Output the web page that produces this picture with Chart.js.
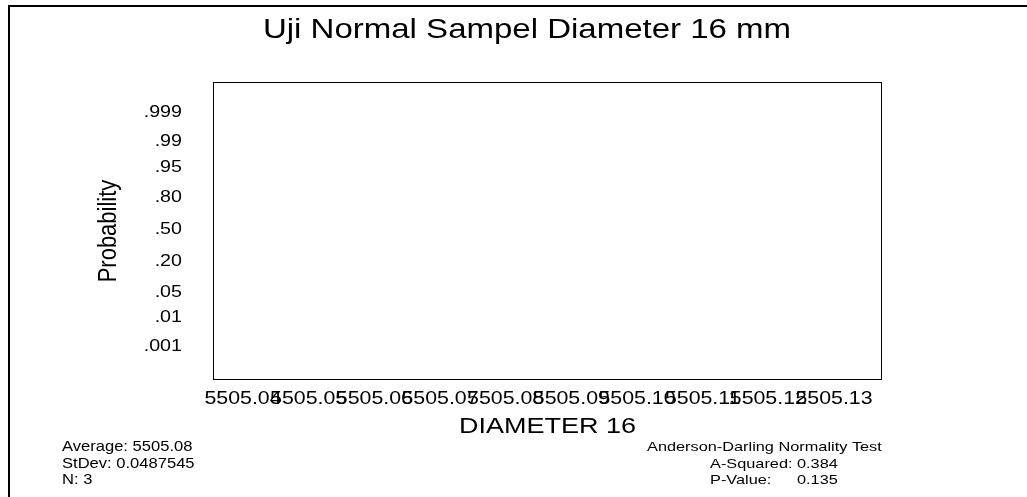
<!DOCTYPE html>
<html>
<head>
<meta charset="utf-8">
<script src="https://cdn.jsdelivr.net/npm/chart.js@4.4.1/dist/chart.umd.min.js"></script>
<style>
  html, body { margin: 0; padding: 0; background: #ffffff; }
  #wrap { width: 1027px; height: 497px; }
</style>
</head>
<body>
<div id="wrap"><canvas id="c" width="1027" height="497"></canvas></div>
<script>
// ---------- data ----------
const chartTitle = 'Uji Normal Sampel Diameter 16 mm';
const xAxisTitle = 'DIAMETER 16';
const yAxisTitle = 'Probability';
const xTickValues = [5505.04, 5505.05, 5505.06, 5505.07, 5505.08, 5505.09, 5505.10, 5505.11, 5505.12, 5505.13];
const xTickLabels = ['5505.04', '5505.05', '5505.06', '5505.07', '5505.08', '5505.09', '5505.10', '5505.11', '5505.12', '5505.13'];
const probTicks = [0.001, 0.01, 0.05, 0.20, 0.50, 0.80, 0.95, 0.99, 0.999];
const probLabels = ['.001', '.01', '.05', '.20', '.50', '.80', '.95', '.99', '.999'];
const diameterPoints = []; // no points are drawn in the reference
const statsLeft = ['Average: 5505.08', 'StDev: 0.0487545', 'N: 3'];
const adTitle = 'Anderson-Darling Normality Test';
const adLabels = ['A-Squared:', 'P-Value:'];
const adValues = ['0.384', '0.135'];

// inverse standard normal (Acklam) — maps probabilities onto the normal-probability axis
function probit(p) {
  const a = [-3.969683028665376e+01, 2.209460984245205e+02, -2.759285104469687e+02, 1.383577518672690e+02, -3.066479806614716e+01, 2.506628277459239e+00];
  const b = [-5.447609879822406e+01, 1.615858368580409e+02, -1.556989798598866e+02, 6.680131188771972e+01, -1.328068155288572e+01];
  const c = [-7.784894002430293e-03, -3.223964580411365e-01, -2.400758277161838e+00, -2.549732539343734e+00, 4.374664141464968e+00, 2.938163982698783e+00];
  const d = [7.784695709041462e-03, 3.224671290700398e-01, 2.445134137142996e+00, 3.754408661907416e+00];
  const pl = 0.02425, ph = 1 - pl;
  let q, r;
  if (p < pl) {
    q = Math.sqrt(-2 * Math.log(p));
    return (((((c[0]*q+c[1])*q+c[2])*q+c[3])*q+c[4])*q+c[5]) / ((((d[0]*q+d[1])*q+d[2])*q+d[3])*q+1);
  } else if (p <= ph) {
    q = p - 0.5; r = q * q;
    return (((((a[0]*r+a[1])*r+a[2])*r+a[3])*r+a[4])*r+a[5])*q / (((((b[0]*r+b[1])*r+b[2])*r+b[3])*r+b[4])*r+1);
  } else {
    q = Math.sqrt(-2 * Math.log(1 - p));
    return -(((((c[0]*q+c[1])*q+c[2])*q+c[3])*q+c[4])*q+c[5]) / ((((d[0]*q+d[1])*q+d[2])*q+d[3])*q+1);
  }
}

const FONT = '"Liberation Sans", Arial, Helvetica, sans-serif';
const HS = 1.2; // horizontal stretch of the reference's text

function drawText(ctx, str, x, y, size, align, hs, rotate) {
  ctx.save();
  ctx.translate(x, y);
  ctx.scale(hs, 1);
  if (rotate) ctx.rotate(-Math.PI / 2);
  ctx.font = size + 'px ' + FONT;
  ctx.textAlign = align;
  ctx.textBaseline = 'middle';
  ctx.fillStyle = '#000000';
  ctx.fillText(str, 0, 0);
  ctx.restore();
}

const decorPlugin = {
  id: 'decor',
  afterDraw(chart) {
    const ctx = chart.ctx;
    const area = chart.chartArea;
    const xs = chart.scales.x, ys = chart.scales.y;

    // page frame (top and left)
    ctx.save();
    ctx.fillStyle = '#000000';
    ctx.fillRect(8, 5, 1027 - 8, 2);
    ctx.fillRect(8, 5, 2, 497 - 5);
    // plot box
    ctx.strokeStyle = '#000000';
    ctx.lineWidth = 1;
    ctx.strokeRect(area.left + 0.5, area.top + 0.5, area.right - area.left - 1, area.bottom - area.top - 1);
    ctx.restore();

    // title
    drawText(ctx, chartTitle, 527, 30, 27.5, 'center', HS, false);

    // y tick labels
    ys.ticks.forEach((t, i) => {
      const py = ys.getPixelForTick(i);
      drawText(ctx, probLabels[i], 182, py, 16.4, 'right', HS, false);
    });
    // x tick labels
    xs.ticks.forEach((t, i) => {
      const px = xs.getPixelForTick(i);
      drawText(ctx, xTickLabels[i], px, 399, 17.8, 'center', HS, false);
    });

    // axis titles
    drawText(ctx, xAxisTitle, (area.left + area.right) / 2, 427, 22.5, 'center', HS, false);
    drawText(ctx, yAxisTitle, 109, (area.top + area.bottom) / 2, 22, 'center', HS, true);

    // statistics
    const rows = [447, 464, 480];
    statsLeft.forEach((s, i) => drawText(ctx, s, 62, rows[i], 13.8, 'left', HS, false));
    drawText(ctx, adTitle, 647, rows[0], 13.6, 'left', HS, false);
    adLabels.forEach((s, i) => drawText(ctx, s, 710, rows[i + 1], 13.6, 'left', HS, false));
    adValues.forEach((s, i) => drawText(ctx, s, 797, rows[i + 1], 13.6, 'left', HS, false));
  }
};

new Chart(document.getElementById('c'), {
  type: 'scatter',
  data: {
    datasets: [{
      label: xAxisTitle,
      data: diameterPoints,
      pointRadius: 3,
      backgroundColor: '#000000',
      borderColor: '#000000'
    }]
  },
  options: {
    responsive: false,
    animation: false,
    devicePixelRatio: 1,
    layout: { padding: { left: 213, right: 145, top: 82, bottom: 117 } },
    plugins: { legend: { display: false }, tooltip: { enabled: false }, title: { display: false } },
    scales: {
      x: {
        type: 'linear',
        min: 5505.03543,
        max: 5505.13731,
        afterBuildTicks: (scale) => { scale.ticks = xTickValues.map(v => ({ value: v })); },
        ticks: { display: false },
        grid: { display: false, drawTicks: false },
        border: { display: false }
      },
      y: {
        type: 'linear',
        min: -3.964,
        max: 3.903,
        afterBuildTicks: (scale) => { scale.ticks = probTicks.map(p => ({ value: probit(p) })); },
        ticks: { display: false },
        grid: { display: false, drawTicks: false },
        border: { display: false }
      }
    }
  },
  plugins: [decorPlugin]
});
</script>
</body>
</html>
